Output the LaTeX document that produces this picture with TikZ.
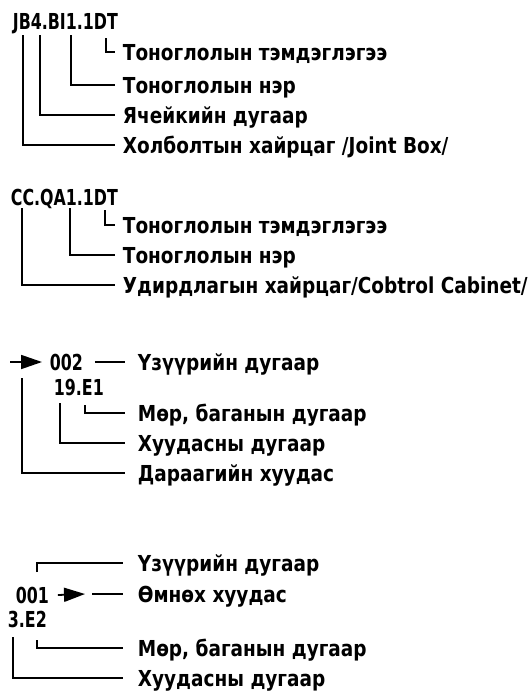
\documentclass[tikz,border=0pt]{standalone}
\usepackage{fontspec}
\usetikzlibrary{arrows.meta}
\newfontfamily\lblfont[FakeStretch=0.84]{DejaVu Sans}
\newfontfamily\codefont[FakeStretch=0.72]{DejaVu Sans}
\begin{document}
\begin{tikzpicture}[x=1pt,y=-1pt,line width=1.8pt,
  code/.style={font=\codefont\bfseries\fontsize{22}{24}\selectfont,inner sep=0pt,anchor=west,text height=16pt,text depth=0pt},
  lbl/.style={font=\lblfont\bfseries\fontsize{22}{24}\selectfont,inner ysep=0pt,inner xsep=#1,anchor=west,text height=16pt,text depth=0pt},
  lbl/.default=7pt,
  tip/.style={-{Triangle[length=21pt,width=14pt]}}]
  \useasboundingbox (0,0) rectangle (528,691);
  % joint box
  \node[code] (jb) at (12,21) {JB4.BI1.1DT};
  \node[lbl] (jb1) at (115,52) {Тоноглолын тэмдэглэгээ};
  \node[lbl] (jb2) at (115,85) {Тоноглолын нэр};
  \node[lbl] (jb3) at (115,115) {Ячейкийн дугаар};
  \node[lbl] (jb4) at (115,145) {Холболтын хайрцаг /Joint Box/};
  \coordinate (jbA) at (23,35); \coordinate (jbB) at (40,35);
  \coordinate (jbC) at (71,35); \coordinate (jbD) at (106,38);
  \draw (jbA) |- (jb4.west); \draw (jbB) |- (jb3.west);
  \draw (jbC) |- (jb2.west); \draw (jbD) |- (jb1.west);
  % control cabinet
  \node[code] (cc) at (10,197) {CC.QA1.1DT};
  \node[lbl] (cc1) at (115,225) {Тоноглолын тэмдэглэгээ};
  \node[lbl] (cc2) at (115,255) {Тоноглолын нэр};
  \node[lbl] (cc3) at (115,285) {Удирдлагын хайрцаг/Cobtrol Cabinet/};
  \coordinate (ccA) at (22,208); \coordinate (ccB) at (70,208);
  \coordinate (ccC) at (105,210);
  \draw (ccA) |- (cc3.west); \draw (ccB) |- (cc2.west); \draw (ccC) |- (cc1.west);
  % next page
  \coordinate (inn) at (10,362);
  \node[code] (n002) at (49,362) {002};
  \draw[tip,shorten >=7pt] (inn) -- (n002.west);
  \node[lbl=12pt] (np1) at (125,362) {Үзүүрийн дугаар};
  \draw ([xshift=11pt]n002.east) -- (np1.west);
  \node[code] (ref19) at (53,387) {19.E1};
  \node[lbl=12pt] (np2) at (125,413) {Мөр, баганын дугаар};
  \node[lbl=12pt] (np3) at (125,443) {Хуудасны дугаар};
  \node[lbl=12pt] (np4) at (125,473) {Дараагийн хуудас};
  \coordinate (npA) at (85,405); \coordinate (npB) at (60,403);
  \coordinate (npC) at (22,378);
  \draw (npA) |- (np2.west); \draw (npB) |- (np3.west); \draw (npC) |- (np4.west);
  % previous page
  \coordinate (up) at (37,572);
  \node[lbl=14pt] (pp1) at (123,563) {Үзүүрийн дугаар};
  \draw (up) |- (pp1.west);
  \node[code] (n001) at (15,595) {001};
  \coordinate (tipB) at (85,594);
  \draw[tip] ([xshift=8pt]n001.east) -- (tipB);
  \node[lbl=14pt] (pp2) at (123,594) {Өмнөх хуудас};
  \draw ([xshift=7pt]tipB) -- (pp2.west);
  \node[code] (ref3) at (7,619) {3.E2};
  \node[lbl=14pt] (pp3) at (123,648) {Мөр, баганын дугаар};
  \node[lbl=14pt] (pp4) at (123,678) {Хуудасны дугаар};
  \coordinate (ppA) at (37,640); \coordinate (ppB) at (13,637);
  \draw (ppA) |- (pp3.west); \draw (ppB) |- (pp4.west);
\end{tikzpicture}
\end{document}
